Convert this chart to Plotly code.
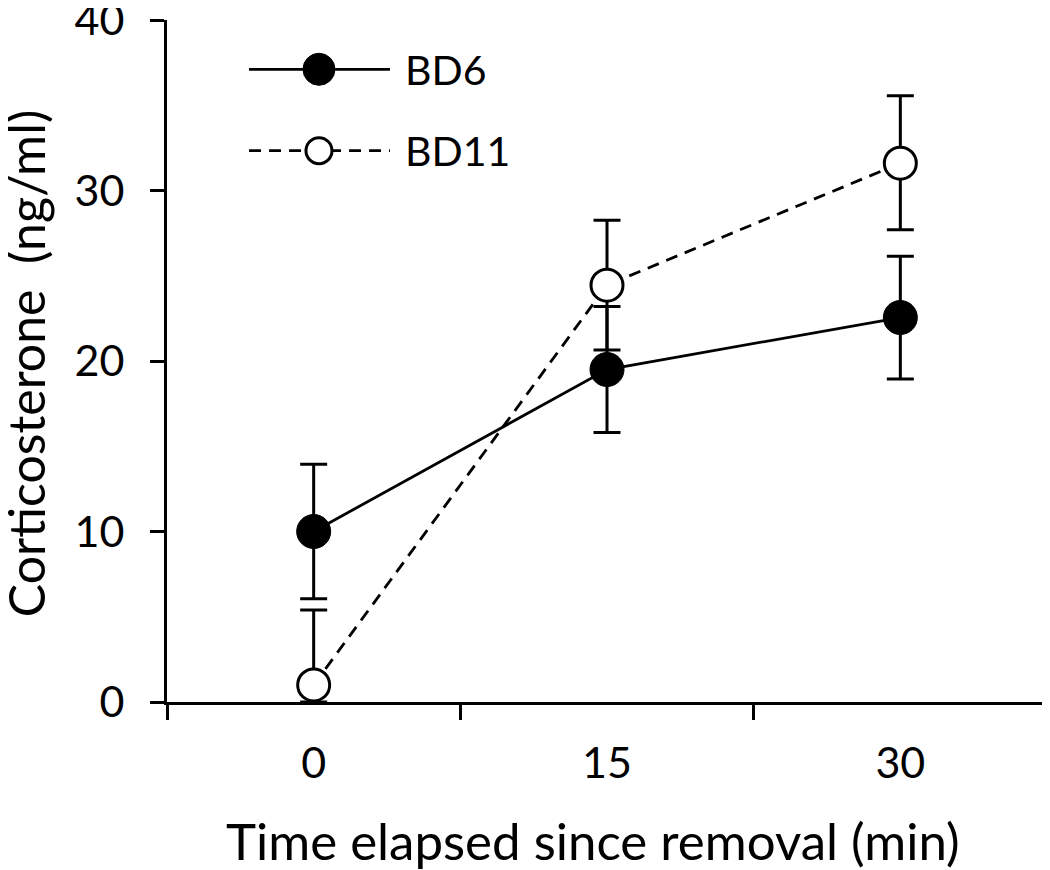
import plotly.graph_objects as go

categories = ["0", "15", "30"]
bd6_values = [10.0, 19.5, 22.55]
bd6_err = [3.95, 3.7, 3.6]
bd11_values = [1.0, 24.45, 31.6]
bd11_err_plus = [4.4, 3.8, 3.95]
bd11_err_minus = [1.0, 3.8, 3.9]
y_ticks = [0, 10, 20, 30, 40]
series_names = ["BD6", "BD11"]
x_title = "Time elapsed since removal (min)"
y_title = "Corticosterone\u00a0 (ng/ml)"

# legend key placement (fractions of the plot area)
LEG_LINE_X = [0.0932, 0.2534]
LEG_MARK_X = 0.1727
LEG_ROW_Y = [0.9277, 0.8084]
LEG_TEXT_X = 0.268
LEG_MARK_SIZE = [32, 26]

FONT = "Lato"
fig = go.Figure()

line_styles = [
    dict(color="black", width=2.8),
    dict(color="black", width=2.8, dash="12px,8px"),
]
marker_styles = [
    dict(symbol="circle", size=34, color="black", line=dict(color="black", width=1)),
    dict(symbol="circle", size=32, color="white", line=dict(color="black", width=3)),
]

fig.add_trace(go.Scatter(
    x=categories, y=bd6_values, name=series_names[0], mode="lines+markers",
    line=line_styles[0], marker=marker_styles[0],
    error_y=dict(type="data", array=bd6_err, visible=True, color="black", thickness=3, width=13.5),
    cliponaxis=False, showlegend=False,
))
fig.add_trace(go.Scatter(
    x=categories, y=bd11_values, name=series_names[1], mode="lines+markers",
    line=line_styles[1], marker=marker_styles[1],
    error_y=dict(type="data", symmetric=False, array=bd11_err_plus, arrayminus=bd11_err_minus,
                 visible=True, color="black", thickness=3, width=13.5),
    cliponaxis=False, showlegend=False,
))

# custom legend keys (plotly's built-in legend caps marker size at 16px)
for i, name in enumerate(series_names):
    fig.add_trace(go.Scatter(
        x=LEG_LINE_X, y=[LEG_ROW_Y[i]] * 2, mode="lines", line=line_styles[i],
        xaxis="x2", yaxis="y2", showlegend=False, hoverinfo="skip", cliponaxis=False,
    ))
    mk = dict(marker_styles[i])
    mk["size"] = LEG_MARK_SIZE[i]
    fig.add_trace(go.Scatter(
        x=[LEG_MARK_X], y=[LEG_ROW_Y[i]], mode="markers", marker=mk,
        xaxis="x2", yaxis="y2", showlegend=False, hoverinfo="skip", cliponaxis=False,
    ))
    fig.add_annotation(
        x=LEG_TEXT_X, y=LEG_ROW_Y[i], xref="x2", yref="y2", text=name, showarrow=False,
        xanchor="left", yanchor="middle", font=dict(family=FONT, size=41, color="black"),
    )

# axis titles placed as annotations for exact positioning
fig.add_annotation(
    x=0.484, y=-0.203, xref="paper", yref="paper", text=x_title, showarrow=False,
    xanchor="center", yanchor="middle", font=dict(family=FONT, size=51, color="black"),
)
fig.add_annotation(
    x=-0.160, y=0.497, xref="paper", yref="paper", text=y_title, showarrow=False,
    textangle=-90, xanchor="center", yanchor="middle",
    font=dict(family=FONT, size=50, color="black"),
)

fig.update_layout(
    width=1050, height=870,
    margin=dict(l=159, r=11, t=12, b=176),
    paper_bgcolor="white", plot_bgcolor="white",
    font=dict(family=FONT, size=42, color="black"),
    showlegend=False,
    xaxis=dict(
        type="category", range=[-0.5, 2.5], tickson="boundaries",
        showline=True, linecolor="black", linewidth=3,
        ticks="outside", ticklen=15, tickwidth=3, tickcolor="black",
        showgrid=False, zeroline=False, automargin=False,
        tickfont=dict(size=43), ticklabelstandoff=21,
    ),
    yaxis=dict(
        range=[0, 40], tickvals=y_ticks,
        showline=True, linecolor="black", linewidth=3,
        ticks="outside", ticklen=14, tickwidth=3, tickcolor="black",
        showgrid=False, zeroline=False, automargin=False,
        tickfont=dict(size=43), ticklabelstandoff=17, ticklabeloverflow="allow",
    ),
    xaxis2=dict(overlaying="x", range=[0, 1], visible=False, fixedrange=True),
    yaxis2=dict(overlaying="y", range=[0, 1], visible=False, fixedrange=True),
)

fig.write_html("out.html")
